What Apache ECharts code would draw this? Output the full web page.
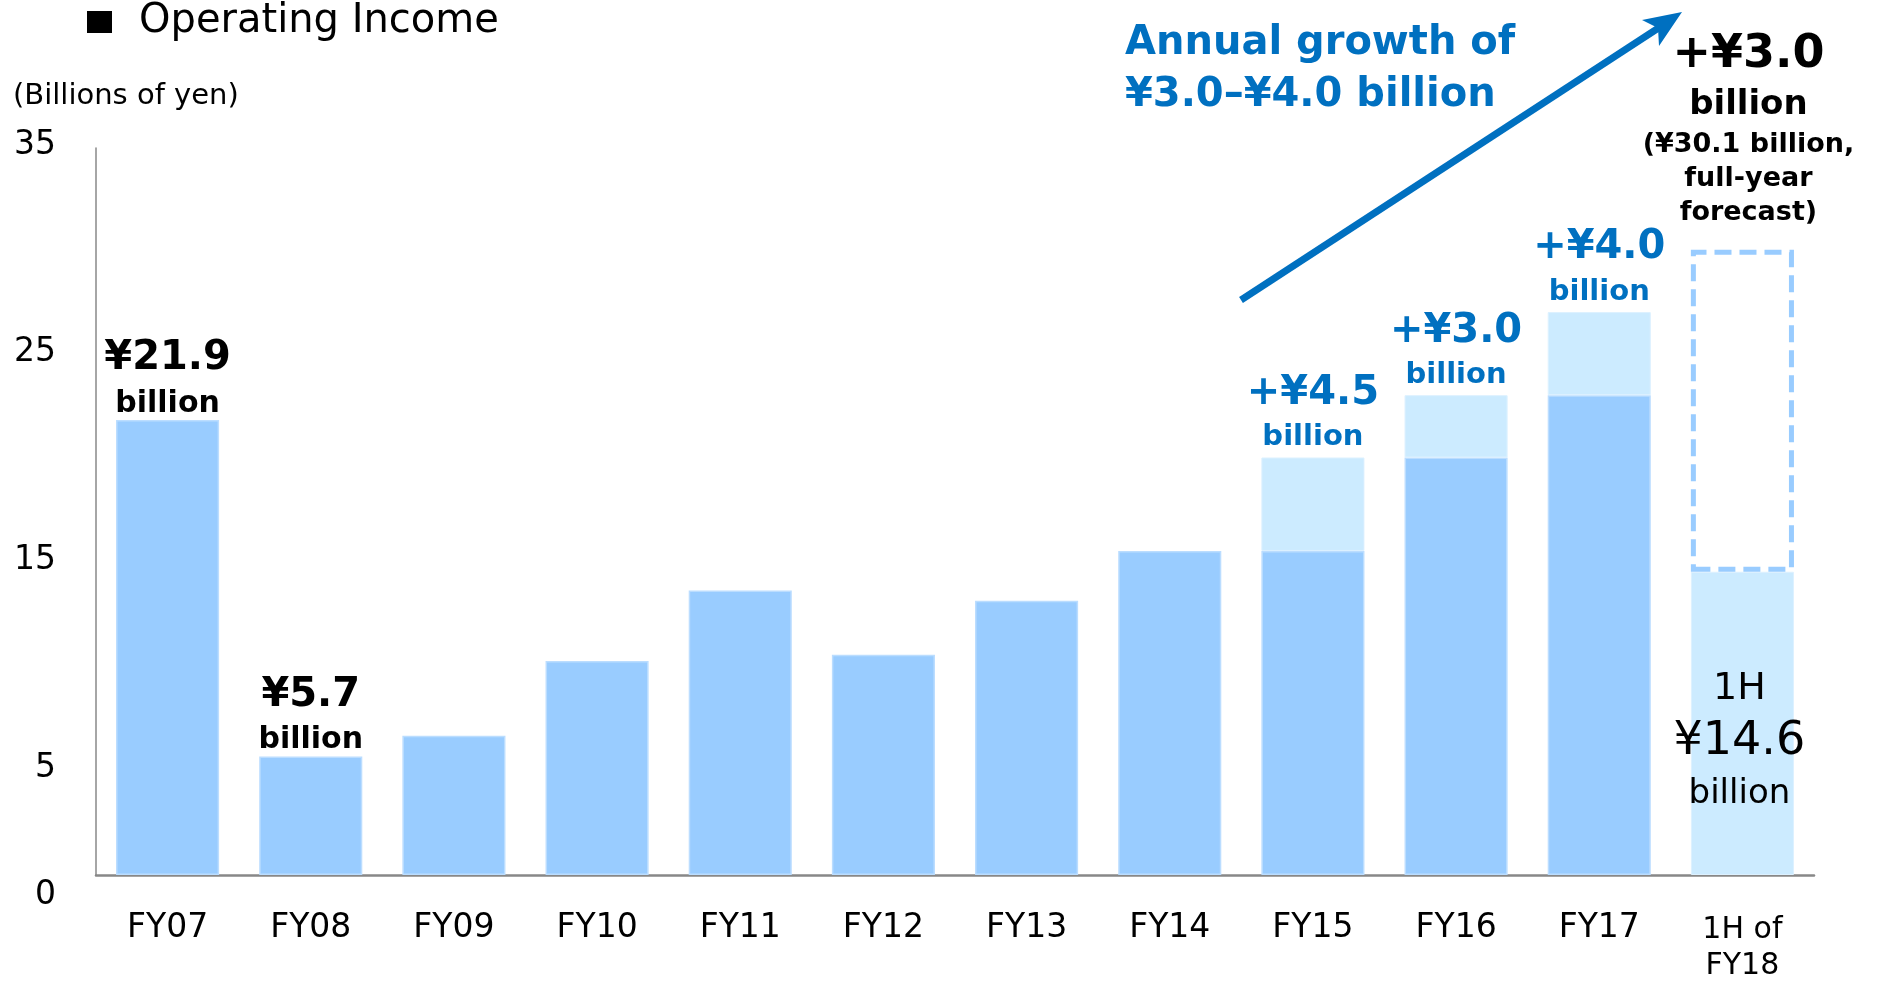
<!DOCTYPE html>
<html>
<head>
<meta charset="utf-8">
<script src="https://cdn.jsdelivr.net/npm/echarts@6/dist/echarts.min.js"></script>
<style>
  html, body { margin: 0; padding: 0; background: #fff; }
  #chart { width: 1884px; height: 981px; }
</style>
</head>
<body>
<div id="chart"></div>
<script>
// Operating income by fiscal year (billions of yen)
const categories = ['FY07', 'FY08', 'FY09', 'FY10', 'FY11', 'FY12', 'FY13', 'FY14', 'FY15', 'FY16', 'FY17', '1H of\nFY18'];
const operatingIncome = [21.9, 5.7, 6.7, 10.3, 13.7, 10.6, 13.2, 15.6, 20.1, 23.1, 27.1]; // FY07–FY17
const firstHalfFY18 = 14.6;
const forecastFY18 = 30.1;
const growthYears = ['FY15', 'FY16', 'FY17'];
const calloutYears = ['FY07', 'FY08'];
const yTickLabels = [0, 5, 15, 25, 35];

const FONT = 'DejaVu Sans';
const BLUE = '#0070C0';
const BAR_DARK = '#99CCFF';
const BAR_LIGHT = '#CCEBFF';
const last = categories.length - 1;
const round1 = v => Math.round(v * 10) / 10;

// Growth years show the prior-year level in the darker tone with the increase stacked on top.
const baseData = categories.map((c, i) => {
  if (i === last) return '-';
  return growthYears.includes(c) ? operatingIncome[i - 1] : operatingIncome[i];
});
const growthData = categories.map((c, i) =>
  growthYears.includes(c) ? round1(operatingIncome[i] - operatingIncome[i - 1]) : '-');
const firstHalfData = categories.map((c, i) => (i === last ? firstHalfFY18 : '-'));
const forecastData = categories.map((c, i) => (i === last ? round1(forecastFY18 - firstHalfFY18) : '-'));
const forecastGrowth = round1(forecastFY18 - operatingIncome[operatingIncome.length - 1]);

const chart = echarts.init(document.getElementById('chart'), null, { renderer: 'canvas' });

const option = {
  animation: false,
  textStyle: { fontFamily: FONT },
  grid: { left: 96, right: 70, top: 148, bottom: 105, containLabel: false },
  title: {
    text: '(Billions of yen)',
    left: 8,
    top: 77,
    textStyle: { fontFamily: FONT, fontSize: 29, fontWeight: 'normal', color: '#000' }
  },
  legend: {
    left: 82,
    top: -3,
    icon: 'rect',
    itemWidth: 25,
    itemHeight: 22,
    selectedMode: false,
    data: [{ name: 'Operating Income', itemStyle: { color: '#000', borderWidth: 0 } }],
    textStyle: { fontFamily: FONT, fontSize: 40, color: '#000', padding: [0, 0, 0, 22] }
  },
  xAxis: {
    type: 'category',
    data: categories,
    axisTick: { show: false },
    axisLine: { lineStyle: { color: '#888', width: 2.5 } },
    axisLabel: {
      interval: 0,
      margin: 37,
      color: '#000',
      fontFamily: FONT,
      fontSize: 33,
      formatter: v => v.includes('\n') ? v.split('\n').map(s => `{s|${s}}`).join('\n') : v,
      rich: { s: { fontFamily: FONT, fontSize: 30, lineHeight: 36, color: '#000' } }
    }
  },
  yAxis: {
    type: 'value',
    min: 0,
    max: 35,
    interval: 5,
    splitLine: { show: false },
    axisTick: { show: false },
    axisLine: { show: true, lineStyle: { color: '#888', width: 1.5 } },
    axisLabel: {
      margin: 40,
      color: '#000',
      formatter: v => {
        if (!yTickLabels.includes(v)) return '';
        return v === 0 ? `{z|${v}}` : `{n|${v}}`;
      },
      rich: {
        n: { fontFamily: FONT, fontSize: 33, color: '#000', padding: [0, 0, 6, 0] },
        z: { fontFamily: FONT, fontSize: 33, color: '#000', padding: [40, 0, 0, 0] }
      }
    }
  },
  graphic: [
    {
      type: 'text',
      left: 1125,
      top: 18,
      style: {
        text: 'Annual growth of\n¥3.0–¥4.0 billion',
        fill: BLUE,
        font: `bold 40px "${FONT}"`,
        lineHeight: 52,
        align: 'center'
      }
    },
    {
      type: 'line',
      shape: { x1: 1241, y1: 300, x2: 1660, y2: 27 },
      style: { stroke: BLUE, lineWidth: 7 }
    },
    {
      type: 'polygon',
      shape: { points: [[1682, 12], [1659, 46], [1658, 28], [1642, 20]] },
      style: { fill: BLUE }
    }
  ],
  series: [
    {
      name: 'Operating Income',
      type: 'bar',
      stack: 'fy',
      barWidth: '72%',
      data: baseData,
      itemStyle: { color: BAR_DARK, borderColor: '#BBDDFF', borderWidth: 1.5 },
      label: {
        show: true,
        position: 'top',
        distance: -2,
        formatter: p => calloutYears.includes(p.name) ? `{v|¥${p.value.toFixed(1)}}\n{u|billion}` : '',
        rich: {
          v: { fontFamily: FONT, fontSize: 40, fontWeight: 'bold', color: '#000', lineHeight: 54, align: 'center' },
          u: { fontFamily: FONT, fontSize: 30, fontWeight: 'bold', color: '#000', lineHeight: 36, align: 'center' }
        }
      }
    },
    {
      name: 'Increase',
      type: 'bar',
      stack: 'fy',
      barWidth: '72%',
      data: growthData,
      itemStyle: { color: BAR_LIGHT, borderColor: '#DDF1FF', borderWidth: 1 },
      label: {
        show: true,
        position: 'top',
        distance: 2,
        formatter: p => `{v|+¥${p.value.toFixed(1)}}\n{u|billion}`,
        rich: {
          v: { fontFamily: FONT, fontSize: 40, fontWeight: 'bold', color: BLUE, lineHeight: 52, align: 'center' },
          u: { fontFamily: FONT, fontSize: 29, fontWeight: 'bold', color: BLUE, lineHeight: 36, align: 'center' }
        }
      }
    },
    {
      name: '1H of FY18',
      type: 'bar',
      stack: 'fy',
      barWidth: '72%',
      data: firstHalfData,
      itemStyle: { color: BAR_LIGHT, borderColor: '#DDF1FF', borderWidth: 1 },
      label: {
        show: true,
        position: 'inside',
        offset: [-3, 18],
        formatter: p => `{h|1H}\n{v|¥${p.value.toFixed(1)}}\n{u|billion}`,
        rich: {
          h: { fontFamily: FONT, fontSize: 38, color: '#000', lineHeight: 50, align: 'center' },
          v: { fontFamily: FONT, fontSize: 46, color: '#000', lineHeight: 56, align: 'center' },
          u: { fontFamily: FONT, fontSize: 34, color: '#000', lineHeight: 48, align: 'center' }
        }
      }
    },
    {
      name: 'FY18 forecast',
      type: 'bar',
      stack: 'fy',
      barWidth: '72%',
      data: forecastData,
      itemStyle: { color: 'rgba(0,0,0,0)', borderColor: BAR_DARK, borderWidth: 5, borderType: [17, 8] },
      label: {
        show: true,
        position: 'top',
        distance: 20,
        offset: [6, 0],
        formatter: () => `{a|+¥${forecastGrowth.toFixed(1)}}\n{b|billion}\n{c|(¥${forecastFY18.toFixed(1)} billion,}\n{c|full-year}\n{c|forecast)}`,
        rich: {
          a: { fontFamily: FONT, fontSize: 46, fontWeight: 'bold', color: '#000', lineHeight: 54, align: 'center' },
          b: { fontFamily: FONT, fontSize: 34, fontWeight: 'bold', color: '#000', lineHeight: 46, align: 'center' },
          c: { fontFamily: FONT, fontSize: 27, fontWeight: 'bold', color: '#000', lineHeight: 34, align: 'center' }
        }
      }
    }
  ]
};

chart.setOption(option);
</script>
</body>
</html>
